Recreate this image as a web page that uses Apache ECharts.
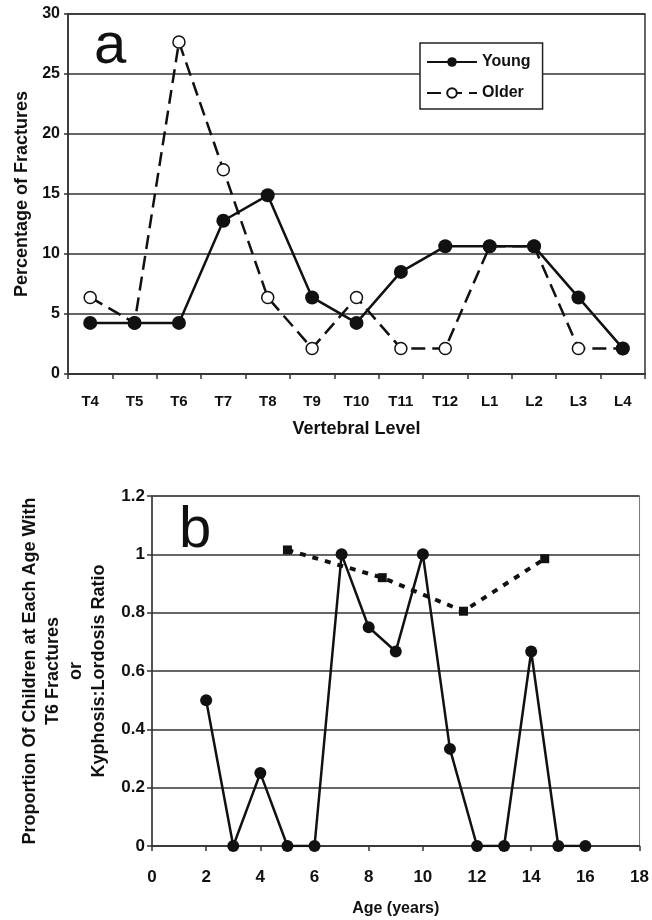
<!DOCTYPE html>
<html>
<head>
<meta charset="utf-8">
<script src="https://cdn.jsdelivr.net/npm/echarts@6/dist/echarts.min.js"></script>
<style>
  html, body { margin: 0; padding: 0; background: #fff; }
  #main { width: 652px; height: 920px; }
</style>
</head>
<body>
<div id="main"></div>
<script>
// panel a: vertebral levels
const levels = ['T4', 'T5', 'T6', 'T7', 'T8', 'T9', 'T10', 'T11', 'T12', 'L1', 'L2', 'L3', 'L4'];
const youngPct = [4.26, 4.26, 4.26, 12.77, 14.89, 6.38, 4.26, 8.51, 10.64, 10.64, 10.64, 6.38, 2.13];
const olderPct = [6.38, 4.26, 27.66, 17.02, 6.38, 2.13, 6.38, 2.13, 2.13, 10.64, 10.64, 2.13, 2.13];

// panel b: age
const ages = [2, 3, 4, 5, 6, 7, 8, 9, 10, 11, 12, 13, 14, 15, 16];
const t6Proportion = [0.5, 0, 0.25, 0, 0, 1, 0.75, 0.667, 1, 0.333, 0, 0, 0.667, 0, 0];
const ratioAges = [5, 8.5, 11.5, 14.5];
const kyphosisRatio = [1.015, 0.92, 0.805, 0.985];

const font = 'Liberation Sans, Arial, sans-serif';
const ink = '#111';
const gridLine = '#333';

const chart = echarts.init(document.getElementById('main'));

chart.setOption({
  backgroundColor: '#fff',
  animation: false,
  textStyle: { fontFamily: font, color: ink },
  title: [
    { text: 'a', left: 89, top: 13, textStyle: { fontSize: 58, fontWeight: 'normal', color: ink, fontFamily: font } },
    { text: 'b', left: 174, top: 497, textStyle: { fontSize: 58, fontWeight: 'normal', color: ink, fontFamily: font } },
  ],
  legend: {
    data: ['Young', 'Older'],
    orient: 'vertical',
    left: 420,
    top: 43,
    padding: [11, 12, 8, 6],
    itemWidth: 50,
    itemHeight: 12,
    itemGap: 15,
    borderColor: '#222',
    borderWidth: 1.5,
    backgroundColor: '#fff',
    textStyle: { fontSize: 16, fontWeight: 'bold', color: ink, fontFamily: font },
  },
  grid: [
    { left: 68, top: 14, width: 577, height: 360, show: true, borderColor: gridLine, borderWidth: 1.5 },
    { left: 152, top: 496, width: 491, height: 350, show: true, borderColor: '#777', borderWidth: 1 },
  ],
  xAxis: [
    {
      gridIndex: 0,
      type: 'category',
      data: levels,
      boundaryGap: true,
      name: 'Vertebral Level',
      nameLocation: 'middle',
      nameGap: 46,
      nameTextStyle: { fontSize: 18, fontWeight: 'bold', color: ink },
      axisLine: { lineStyle: { color: gridLine, width: 1.5 } },
      axisTick: { show: true, length: 5, lineStyle: { color: gridLine, width: 1.5 } },
      axisLabel: { fontSize: 15, fontWeight: 'bold', color: ink, margin: 20 },
    },
    {
      gridIndex: 1,
      type: 'value',
      min: 0,
      max: 18,
      interval: 2,
      name: 'Age (years)',
      nameLocation: 'middle',
      nameGap: 55,
      nameTextStyle: { fontSize: 16, fontWeight: 'bold', color: ink },
      splitLine: { show: false },
      axisLine: { lineStyle: { color: gridLine, width: 1.5 } },
      axisTick: { show: true, length: 5, lineStyle: { color: gridLine, width: 1.5 } },
      axisLabel: { fontSize: 17, fontWeight: 'bold', color: ink, margin: 23 },
    },
  ],
  yAxis: [
    {
      gridIndex: 0,
      type: 'value',
      min: 0,
      max: 30,
      interval: 5,
      name: 'Percentage of Fractures',
      nameLocation: 'middle',
      nameGap: 37,
      nameRotate: 90,
      nameTextStyle: { fontSize: 18, fontWeight: 'bold', color: ink },
      axisLine: { show: true, lineStyle: { color: gridLine, width: 1.5 } },
      axisTick: { show: true, length: 4, lineStyle: { color: gridLine, width: 1.5 } },
      splitLine: { lineStyle: { color: gridLine, width: 1.5 } },
      axisLabel: { fontSize: 16, fontWeight: 'bold', color: ink, margin: 8 },
    },
    {
      gridIndex: 1,
      type: 'value',
      min: 0,
      max: 1.2,
      interval: 0.2,
      name: 'Proportion Of Children at Each Age With\nT6 Fractures\nor\nKyphosis:Lordosis Ratio',
      nameLocation: 'middle',
      nameGap: 40,
      nameRotate: 90,
      nameTextStyle: { fontSize: 18, fontWeight: 'bold', color: ink, lineHeight: 23, align: 'center' },
      axisLine: { show: true, lineStyle: { color: gridLine, width: 1.5 } },
      axisTick: { show: true, length: 5, lineStyle: { color: gridLine, width: 1.5 } },
      splitLine: { lineStyle: { color: gridLine, width: 1.5 } },
      axisLabel: { fontSize: 17, fontWeight: 'bold', color: ink, margin: 7 },
    },
  ],
  series: [
    {
      name: 'Older',
      type: 'line',
      xAxisIndex: 0,
      yAxisIndex: 0,
      data: olderPct,
      symbol: 'circle',
      symbolSize: 12,
      lineStyle: { color: ink, width: 2.5, type: [14, 7] },
      itemStyle: { color: '#fff', borderColor: ink, borderWidth: 1.5 },
    },
    {
      name: 'Young',
      type: 'line',
      xAxisIndex: 0,
      yAxisIndex: 0,
      data: youngPct,
      symbol: 'circle',
      symbolSize: 14,
      lineStyle: { color: ink, width: 2.5 },
      itemStyle: { color: ink },
    },
    {
      name: 'Kyphosis ratio',
      type: 'line',
      xAxisIndex: 1,
      yAxisIndex: 1,
      data: ratioAges.map((a, i) => [a, kyphosisRatio[i]]),
      symbol: 'rect',
      symbolSize: 9,
      lineStyle: { color: ink, width: 4, type: [6, 7] },
      itemStyle: { color: ink },
    },
    {
      name: 'T6 proportion',
      type: 'line',
      xAxisIndex: 1,
      yAxisIndex: 1,
      data: ages.map((a, i) => [a, t6Proportion[i]]),
      symbol: 'circle',
      symbolSize: 12,
      lineStyle: { color: ink, width: 2.5 },
      itemStyle: { color: ink },
    },
  ],
});
</script>
</body>
</html>
